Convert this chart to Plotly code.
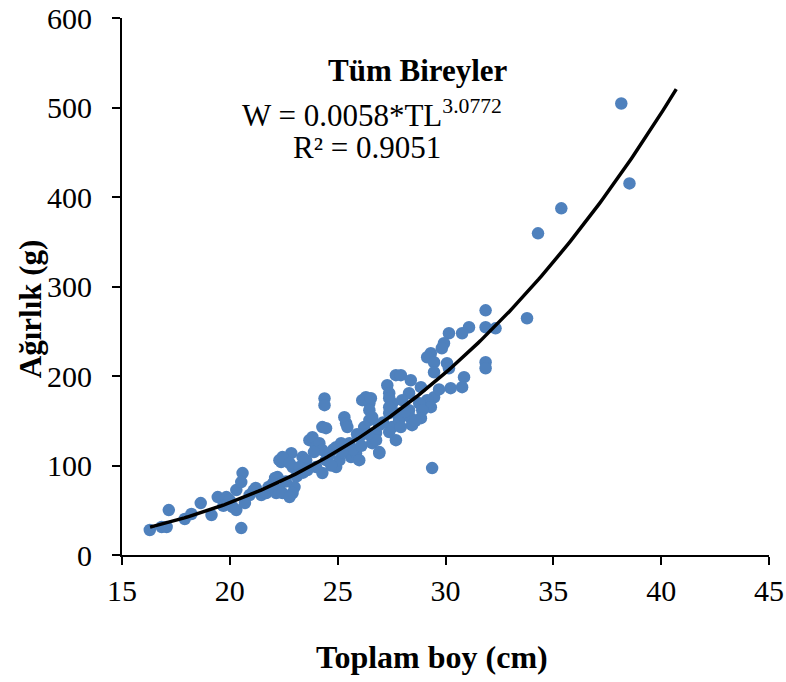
import numpy as np
import plotly.graph_objects as go

length_cm = [
    16.29, 16.84, 17.07, 17.17, 17.91, 18.22, 18.65, 19.15, 19.44, 19.84,
    19.99, 20.30, 20.13, 20.30, 20.53, 20.59, 20.53, 20.92, 21.46, 21.69,
    22.21, 22.38, 22.30, 22.15, 22.85, 22.91, 23.00, 22.91, 22.10, 22.44,
    22.77, 22.30, 22.44, 22.77, 23.37, 23.54, 23.23, 23.69, 23.83, 24.29,
    24.46, 24.00, 24.15, 24.29, 24.00, 24.29, 24.46, 24.39, 24.39, 24.93,
    25.08, 24.93, 25.31, 25.39, 25.45, 25.16, 25.54, 25.62, 25.85, 26.00,
    26.14, 26.31, 26.47, 26.00, 26.23, 26.47, 26.78, 26.60, 26.93, 27.30,
    27.39, 27.53, 27.70, 27.39, 27.53, 27.70, 31.86, 31.86, 32.32, 31.09,
    30.77, 30.16, 29.93, 29.83, 29.32, 29.15, 29.47, 30.07, 30.16, 29.47,
    31.86, 31.86, 30.86, 30.77, 30.24, 27.93, 28.39, 27.39, 28.86, 28.31,
    27.99, 29.47, 29.15, 29.32, 28.78, 28.92, 27.39, 27.70, 27.85, 28.31,
    28.39, 28.45, 28.86, 26.54, 26.47, 26.60, 26.93, 27.39, 27.93, 26.78,
    26.93, 29.38, 38.15, 38.53, 35.37, 34.29, 33.78, 21.10, 21.80, 22.60,
    23.10, 23.60, 24.60, 24.80, 25.70, 26.10, 25.90, 24.70, 23.90, 23.40,
    20.70, 19.70, 21.20, 22.00, 25.20, 26.40, 27.10, 28.10, 28.60, 29.70,
]
weight_g = [
    27.9, 31.3, 31.3, 50.2, 40.2, 45.8, 58.0, 44.6, 64.7, 64.7,
    61.4, 72.5, 53.6, 50.2, 30.1, 91.5, 81.5, 67.0, 67.0, 69.2,
    87.1, 103.8, 72.5, 69.2, 113.8, 98.2, 75.9, 69.2, 86.0, 69.2,
    64.7, 106.0, 109.4, 102.7, 109.4, 106.0, 98.2, 128.3, 131.7, 142.9,
    141.7, 120.5, 125.0, 117.2, 98.2, 91.5, 106.0, 175.0, 167.4, 98.2,
    106.0, 120.5, 154.0, 147.3, 142.9, 125.0, 125.0, 109.4, 113.8, 106.0,
    173.0, 176.3, 169.6, 131.7, 142.9, 150.7, 136.2, 125.0, 113.8, 189.7,
    180.8, 169.6, 200.9, 158.5, 142.9, 128.3, 273.4, 254.5, 253.3, 254.5,
    247.8, 247.8, 236.6, 231.0, 225.4, 221.0, 215.4, 214.3, 208.7, 204.2,
    215.4, 208.7, 198.7, 187.5, 186.4, 200.9, 195.3, 175.2, 187.5, 180.8,
    173.0, 176.3, 173.0, 165.2, 169.6, 161.8, 165.2, 158.5, 150.7, 161.8,
    152.9, 145.1, 152.9, 175.2, 161.8, 154.0, 145.1, 137.3, 142.9, 128.3,
    115.0, 97.1, 504.5, 415.2, 387.3, 359.4, 264.5, 72.0, 76.0, 82.0,
    88.0, 95.0, 112.0, 118.0, 118.0, 122.0, 135.0, 100.0, 115.0, 92.0,
    58.0, 55.0, 75.0, 80.0, 115.0, 135.0, 148.0, 160.0, 150.0, 185.0,
]

# Power regression trendline shown on the chart: W = a * TL^b
fit_a = 0.0058
fit_b = 3.0772
fit_r2 = 0.9051
fit_x_range = [16.3, 40.7]

x_ticks = [15, 20, 25, 30, 35, 40, 45]
y_ticks = [0, 100, 200, 300, 400, 500, 600]

fit_x = np.linspace(fit_x_range[0], fit_x_range[1], 200)
fit_y = fit_a * fit_x ** fit_b

FONT = "Liberation Serif, Times New Roman, serif"

fig = go.Figure()
fig.add_trace(go.Scatter(
    x=length_cm, y=weight_g, mode="markers",
    marker=dict(color="#4F81BD", size=12.5, line=dict(width=0)),
    showlegend=False, hoverinfo="x+y",
))
fig.add_trace(go.Scatter(
    x=fit_x, y=fit_y, mode="lines",
    line=dict(color="black", width=3.5),
    showlegend=False, hoverinfo="skip",
))

fig.update_layout(
    width=786, height=682,
    margin=dict(l=122, r=17, t=18, b=127, autoexpand=False),
    paper_bgcolor="white", plot_bgcolor="white",
    font=dict(family=FONT, color="black"),
    xaxis=dict(
        range=[15, 45], tickvals=x_ticks, ticks="outside", ticklen=8,
        tickwidth=2, tickcolor="black", showline=True, linecolor="black",
        linewidth=2, showgrid=False, zeroline=False, automargin=False,
        tickfont=dict(family=FONT, size=30, color="black"),
        ticklabelstandoff=0, ticklabeloverflow="allow",
    ),
    yaxis=dict(
        range=[0, 600], tickvals=y_ticks, ticks="outside", ticklen=8,
        tickwidth=2, tickcolor="black", showline=True, linecolor="black",
        linewidth=2, showgrid=False, zeroline=False, automargin=False,
        tickfont=dict(family=FONT, size=30, color="black"),
        ticklabelstandoff=14, ticklabeloverflow="allow",
    ),
    annotations=[
        dict(text="<b>Toplam boy (cm)</b>", xref="paper", yref="paper",
             x=0.479, y=-0.19, showarrow=False, xanchor="center", yanchor="middle",
             font=dict(family=FONT, size=32, color="black")),
        dict(text="<b>Ağırlık (g)</b>", xref="paper", yref="paper",
             x=-0.142, y=0.458, showarrow=False, textangle=-90,
             xanchor="center", yanchor="middle",
             font=dict(family=FONT, size=31, color="black")),
        dict(text="<b>Tüm Bireyler</b>", xref="paper", yref="paper",
             x=0.4575, y=0.903, showarrow=False, xanchor="center", yanchor="middle",
             font=dict(family=FONT, size=31, color="black")),
        dict(text=f"W = {fit_a:.4f}*TL<sup>{fit_b:.4f}</sup>", xref="paper", yref="paper",
             x=0.386, y=0.822, showarrow=False, xanchor="center", yanchor="middle",
             font=dict(family=FONT, size=31, color="black")),
        dict(text=f"R² = {fit_r2:.4f}", xref="paper", yref="paper",
             x=0.379, y=0.758, showarrow=False, xanchor="center", yanchor="middle",
             font=dict(family=FONT, size=31, color="black")),
    ],
)

fig.write_html(
    "out.html",
    config={"displayModeBar": False},
    post_script="document.body.style.margin='0';document.body.style.overflow='hidden';",
)
